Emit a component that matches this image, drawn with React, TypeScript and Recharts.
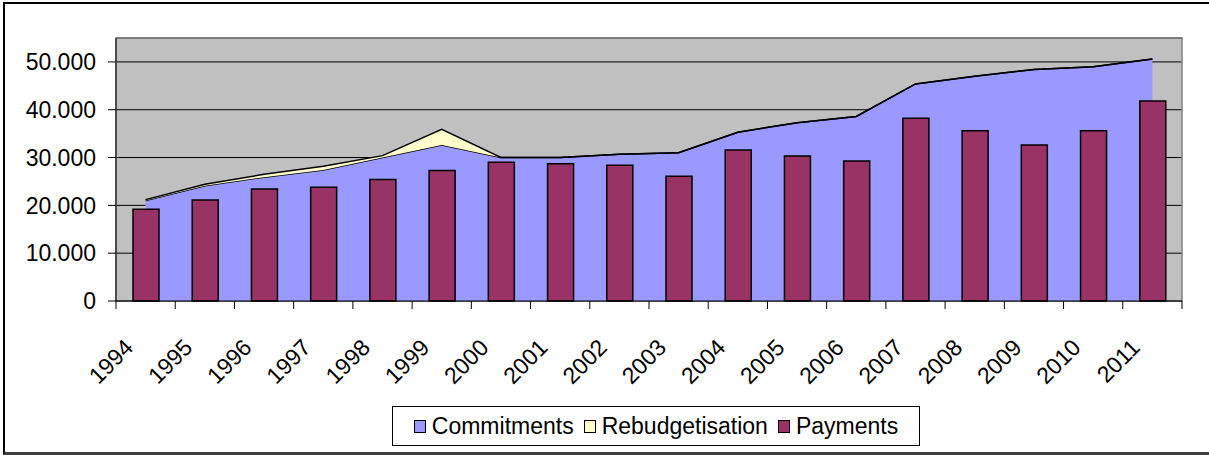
import {
  ComposedChart,
  Area,
  Bar,
  XAxis,
  YAxis,
  CartesianGrid,
  ReferenceArea,
  Legend,
} from "recharts";

const years = [
  "1994", "1995", "1996", "1997", "1998", "1999", "2000", "2001", "2002",
  "2003", "2004", "2005", "2006", "2007", "2008", "2009", "2010", "2011",
];
const commitments = [
  21000, 24100, 25900, 27400, 30000, 32600, 30000, 30000, 30700,
  31000, 35300, 37300, 38600, 45400, 47000, 48400, 49000, 50600,
];
const rebudgetisation = [200, 300, 600, 800, 400, 3300, 0, 0, 0, 0, 0, 0, 0, 0, 0, 0, 0, 0];
const payments = [
  19200, 21100, 23400, 23800, 25400, 27300, 29000, 28700, 28400,
  26100, 31600, 30300, 29300, 38200, 35600, 32600, 35600, 41800,
];
const yTicks = [0, 10000, 20000, 30000, 40000, 50000];

const data = years.map((year, i) => ({
  year,
  Commitments: commitments[i],
  Rebudgetisation: rebudgetisation[i],
  Payments: payments[i],
}));

const FONT = "'Liberation Sans', Arial, sans-serif";
const W = 1209;
const H = 455;
const LEFT = 116;
const RIGHT = 27;
const STEP = (W - LEFT - RIGHT) / years.length;

const fmt = (v: number) => (v === 0 ? "0" : `${v / 1000}.000`);

const XTick = (props: any) => {
  const { x, y, payload, index } = props;
  const half = STEP / 2;
  return (
    <g>
      <line x1={x - half} x2={x - half} y1={y} y2={y + 8} stroke="#000" />
      {index === years.length - 1 && (
        <line x1={x + half} x2={x + half} y1={y} y2={y + 8} stroke="#000" />
      )}
      <text
        x={x - 11}
        y={y + 48}
        transform={`rotate(-45, ${x - 11}, ${y + 48})`}
        textAnchor="end"
        fontSize={23}
        fontFamily={FONT}
        fill="#000"
      >
        {payload.value}
      </text>
    </g>
  );
};

const legendItems = [
  { name: "Commitments", color: "#9999FF" },
  { name: "Rebudgetisation", color: "#FFFFCC" },
  { name: "Payments", color: "#993366" },
];

const renderLegend = () => (
  <div
    style={{
      boxSizing: "border-box",
      width: "100%",
      height: "100%",
      border: "1px solid #000",
      background: "#fff",
      display: "flex",
      alignItems: "center",
      justifyContent: "center",
      gap: 10,
      fontFamily: FONT,
      fontSize: 23,
      color: "#000",
    }}
  >
    {legendItems.map((it) => (
      <span key={it.name} style={{ display: "flex", alignItems: "center" }}>
        <span
          style={{
            display: "inline-block",
            width: 10,
            height: 11,
            background: it.color,
            border: "1px solid #000",
            marginRight: 6,
          }}
        />
        {it.name}
      </span>
    ))}
  </div>
);

export default function App() {
  return (
    <div
      style={{
        position: "absolute",
        left: 0,
        top: 0,
        width: W,
        height: H,
        overflow: "hidden",
        background: "#fff",
      }}
    >
      <ComposedChart
        width={W}
        height={H}
        data={data}
        margin={{ top: 38, right: RIGHT, bottom: 94, left: 0 }}
      >
        <CartesianGrid vertical={false} fill="#C0C0C0" stroke="#000" fillOpacity={1} />
        <ReferenceArea y1={0} y2={55000} fill="none" stroke="#808080" strokeWidth={1.5} />
        <XAxis
          dataKey="year"
          height={60}
          interval={0}
          tickLine={false}
          tickSize={0}
          tickMargin={0}
          axisLine={{ stroke: "#000" }}
          tick={<XTick />}
        />
        <YAxis
          width={LEFT}
          domain={[0, 55000]}
          ticks={yTicks}
          tickFormatter={fmt}
          tickSize={8}
          tickMargin={12}
          axisLine={{ stroke: "#000" }}
          tickLine={{ stroke: "#000" }}
          tick={{ fontSize: 23, fontFamily: FONT, fill: "#000" }}
        />
        <Area
          type="linear"
          dataKey="Commitments"
          stackId="a"
          fill="#9999FF"
          fillOpacity={1}
          stroke="#000"
          strokeWidth={1.5}
          isAnimationActive={false}
        />
        <Area
          type="linear"
          dataKey="Rebudgetisation"
          stackId="a"
          fill="#FFFFCC"
          fillOpacity={1}
          stroke="#000"
          strokeWidth={1.5}
          isAnimationActive={false}
        />
        <Bar
          dataKey="Payments"
          barSize={26}
          fill="#993366"
          stroke="#000"
          strokeWidth={1.5}
          isAnimationActive={false}
        />
        <Legend
          layout="horizontal"
          verticalAlign="middle"
          align="center"
          wrapperStyle={{ position: "absolute", left: 392, top: 406, width: 528, height: 40 }}
          content={renderLegend}
        />
      </ComposedChart>
      <div
        style={{
          position: "absolute",
          zIndex: 5,
          pointerEvents: "none",
          left: 3,
          top: 2,
          width: W + 20,
          height: 453,
          boxSizing: "border-box",
          borderTop: "2px solid #000",
          borderLeft: "2px solid #000",
          borderBottom: "3px solid #404040",
        }}
      />
    </div>
  );
}
